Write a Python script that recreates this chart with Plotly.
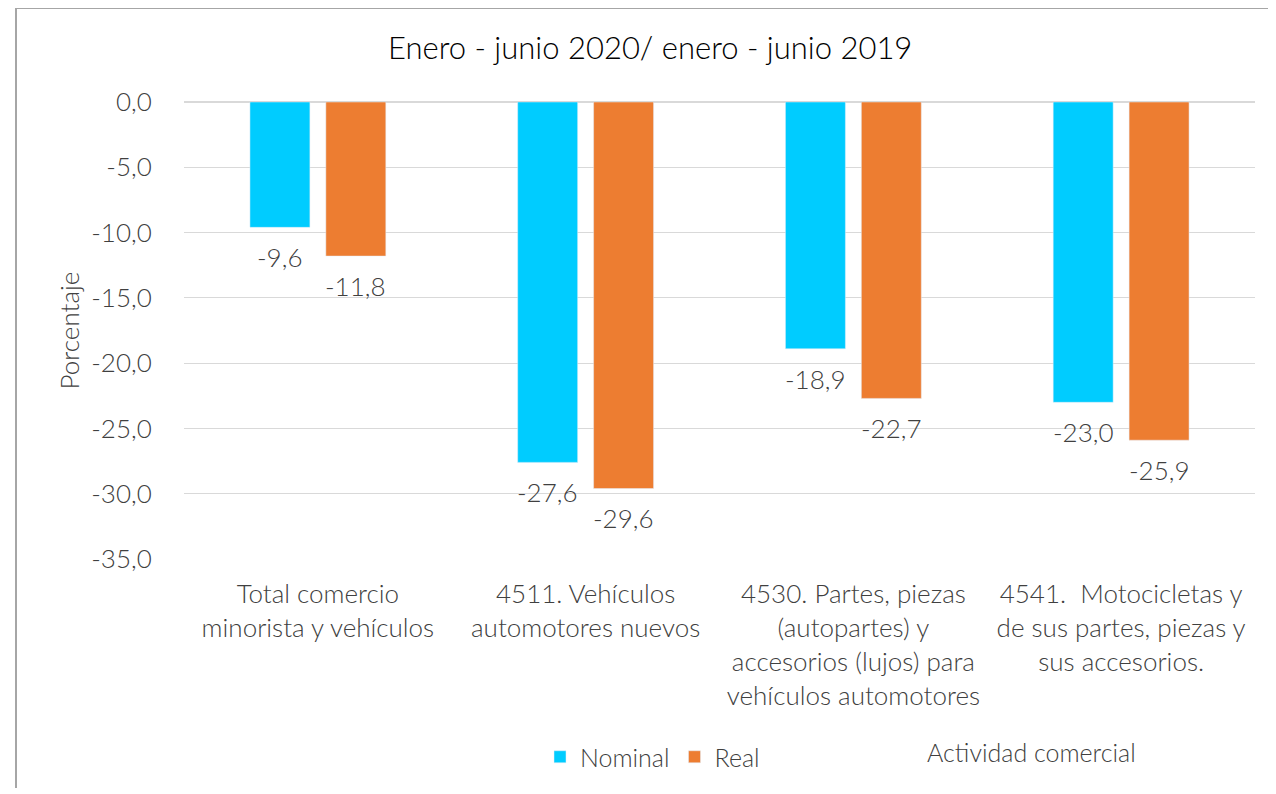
import plotly.graph_objects as go

categories = [
    "Total comercio<br>minorista y vehículos",
    "4511. Vehículos<br>automotores nuevos",
    "4530. Partes, piezas<br>(autopartes) y<br>accesorios (lujos) para<br>vehículos automotores",
    "4541.  Motocicletas y<br>de sus partes, piezas y<br>sus accesorios.",
]
nominal = [-9.6, -27.6, -18.9, -23.0]
real = [-11.8, -29.6, -22.7, -25.9]
tick_vals = [0, -5, -10, -15, -20, -25, -30, -35]

FONT = "Lato"
W = 300
TXT = "#404040"

# page body offset of 8px is compensated: figure coords = screen coords - 8
OFF = 8
FW, FH = 1268, 786
L, R, T, B = 184 - OFF, FW - (1255 - OFF), 102 - OFF, FH - (559 - OFF)
PW, PH = FW - L - R, FH - T - B


def px(xs):
    return (xs - OFF - L) / PW


def py(ys):
    return (FH - B - (ys - OFF)) / PH


def fmt(v):
    return f"{v:.1f}".replace(".", ",")


fig = go.Figure()
fig.add_trace(go.Bar(name="Nominal", x=categories, y=nominal, marker_color="#00CCFF"))
fig.add_trace(go.Bar(name="Real", x=categories, y=real, marker_color="#ED7D31"))

annotations = []
for vals, shift in ((nominal, -38), (real, 38)):
    for c, v in zip(categories, vals):
        annotations.append(dict(
            x=c, y=v, xref="x", yref="y", text=fmt(v), showarrow=False,
            xshift=shift, yshift=-30, yanchor="middle",
            font=dict(family=FONT, size=26, color=TXT, weight=W),
        ))

annotations.append(dict(
    text="Enero - junio 2020/ enero - junio 2019", xref="paper", yref="paper",
    x=px(650), y=py(47), showarrow=False, xanchor="center", yanchor="middle",
    font=dict(family=FONT, size=31, color="#000000", weight=W),
))
annotations.append(dict(
    text="Actividad comercial", xref="paper", yref="paper",
    x=px(1031), y=py(752), showarrow=False,
    xanchor="center", yanchor="middle",
    font=dict(family=FONT, size=25, color=TXT, weight=W),
))

x0, y0, y1, x1 = px(16), py(788), py(OFF), px(1300)
fig.update_layout(
    width=FW, height=FH,
    margin=dict(l=L, r=R, t=T, b=B),
    paper_bgcolor="white", plot_bgcolor="white",
    barmode="group", bargap=0.433, bargroupgap=0.21,
    separators=", ",
    font=dict(family=FONT, color=TXT, weight=W),
    showlegend=True,
    legend=dict(
        orientation="h", x=px(540), y=py(757),
        xanchor="left", yanchor="middle",
        font=dict(family=FONT, size=25, color=TXT, weight=W),
        itemwidth=30, tracegroupgap=0,
    ),
    annotations=annotations,
    shapes=[dict(
        type="path", xref="paper", yref="paper",
        path=f"M {x0} {y0} L {x0} {y1} L {x1} {y1}",
        line=dict(color="#a6a6a6", width=2),
    )],
)

fig.update_yaxes(
    range=[-35, 0], tickvals=tick_vals, ticktext=[fmt(v) for v in tick_vals],
    showgrid=True, gridcolor="#d9d9d9", gridwidth=1,
    zeroline=True, zerolinecolor="#d9d9d9", zerolinewidth=2,
    showline=False, ticks="outside", ticklen=26, tickcolor="rgba(0,0,0,0)",
    tickfont=dict(family=FONT, size=26, color=TXT, weight=W),
    title=dict(text="Porcentaje", font=dict(family=FONT, size=26, color=TXT, weight=W), standoff=4),
    automargin=False,
)
fig.update_xaxes(
    showline=False, showgrid=False, ticks="outside", ticklen=12,
    tickcolor="rgba(0,0,0,0)",
    tickfont=dict(family=FONT, size=26, color=TXT, weight=W),
    automargin=False,
)

fig.write_html("out.html")
